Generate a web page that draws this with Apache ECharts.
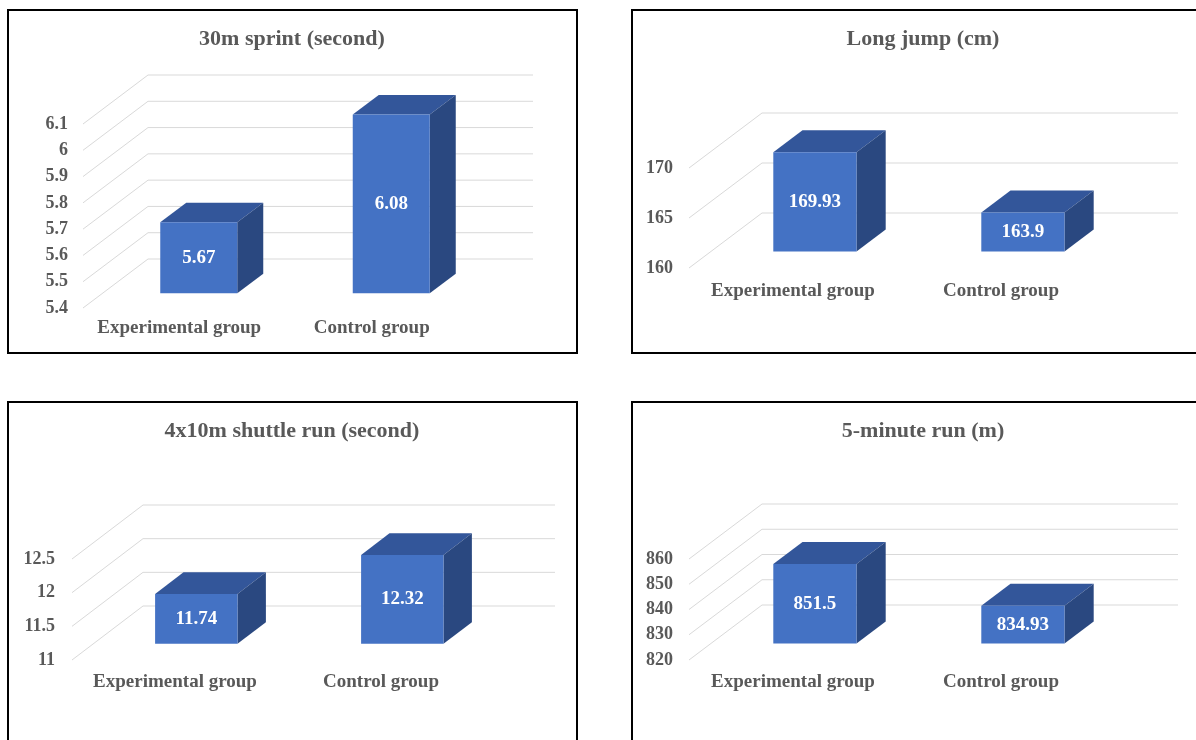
<!DOCTYPE html>
<html>
<head>
<meta charset="utf-8">
<script src="https://cdn.jsdelivr.net/npm/echarts@6/dist/echarts.min.js"></script>
<style>
  html, body { margin: 0; padding: 0; background: #fff; }
  #chart { width: 1196px; height: 740px; }
</style>
</head>
<body>
<div id="chart"></div>
<script>
const categories = ["Experimental group", "Control group"];

const sprintValues = [5.67, 6.08];
const sprintTicks = [5.4, 5.5, 5.6, 5.7, 5.8, 5.9, 6, 6.1];

const jumpValues = [169.93, 163.9];
const jumpTicks = [160, 165, 170];

const shuttleValues = [11.74, 12.32];
const shuttleTicks = [11, 11.5, 12, 12.5];

const runValues = [851.5, 834.93];
const runTicks = [820, 830, 840, 850, 860];

const FONT = '"Liberation Serif", "Times New Roman", serif';
const TEXT_COLOR = "#595959";
const FRONT = "#4472C4";
const TOP = "#33569A";
const SIDE = "#2A4880";
const GRID_LINE = "#D9D9D9";

// layout of the four panels (front plane of each 3d chart + depth vector)
const panels = [
  { title: "30m sprint (second)", values: sprintValues, ticks: sprintTicks,
    box: [8, 10, 569, 343], titlePos: [292, 39],
    grid: { left: 83, top: 124, width: 385, height: 184 },
    depth: [65, -49], xMargin: 11, yMargin: 15 },
  { title: "Long jump (cm)", values: jumpValues, ticks: jumpTicks,
    box: [632, 10, 620, 343], titlePos: [923, 39],
    grid: { left: 689, top: 168, width: 416, height: 100 },
    depth: [73, -55], xMargin: 14, yMargin: 16 },
  { title: "4x10m shuttle run (second)", values: shuttleValues, ticks: shuttleTicks,
    box: [8, 402, 569, 400], titlePos: [292, 431],
    grid: { left: 72, top: 559, width: 412, height: 101 },
    depth: [71, -54], xMargin: 13, yMargin: 17 },
  { title: "5-minute run (m)", values: runValues, ticks: runTicks,
    box: [632, 402, 620, 400], titlePos: [923, 431],
    grid: { left: 689, top: 559, width: 416, height: 101 },
    depth: [73, -55], xMargin: 13, yMargin: 16 },
];

const labelStyle = {
  fontFamily: FONT,
  fontWeight: "bold",
  color: TEXT_COLOR,
};

function gridLineRender(depth) {
  return function (params, api) {
    const cs = params.coordSys;
    const y = api.coord([0, api.value(1)])[1];
    const x0 = cs.x;
    const x1 = cs.x + cs.width;
    return {
      type: "polyline",
      shape: { points: [[x0, y], [x0 + depth[0], y + depth[1]], [x1 + depth[0], y + depth[1]]] },
      style: { stroke: GRID_LINE, lineWidth: 1, fill: null },
    };
  };
}

function barRender(depth, yMin) {
  return function (params, api) {
    const i = api.value(0);
    const v = api.value(1);
    const base = api.coord([i, yMin]);
    const top = api.coord([i, v]);
    const w = api.size([1, 0])[0] * 0.4;
    const fx = base[0] - w / 2 + depth[0] * 0.3;
    const fy0 = top[1] + depth[1] * 0.3;
    const fy1 = base[1] + depth[1] * 0.3;
    const bx = depth[0] * 0.4;
    const by = depth[1] * 0.4;
    return {
      type: "group",
      children: [
        {
          type: "polygon",
          shape: { points: [[fx, fy0], [fx + w, fy0], [fx + w + bx, fy0 + by], [fx + bx, fy0 + by]] },
          style: { fill: TOP },
        },
        {
          type: "polygon",
          shape: { points: [[fx + w, fy0], [fx + w + bx, fy0 + by], [fx + w + bx, fy1 + by], [fx + w, fy1]] },
          style: { fill: SIDE },
        },
        {
          type: "rect",
          shape: { x: fx, y: fy0, width: w, height: fy1 - fy0 },
          style: { fill: FRONT },
        },
        {
          type: "text",
          style: {
            text: String(v),
            x: fx + w / 2,
            y: (fy0 + fy1) / 2,
            align: "center",
            verticalAlign: "middle",
            textAlign: "center",
            textVerticalAlign: "middle",
            fill: "#fff",
            font: "bold 19px " + FONT,
          },
        },
      ],
    };
  };
}

const grids = [];
const xAxes = [];
const yAxes = [];
const series = [];
const graphics = [];

panels.forEach((p, k) => {
  const yMin = p.ticks[0];
  const yMax = p.ticks[p.ticks.length - 1];
  grids.push({ ...p.grid, containLabel: false, outerBoundsMode: "none" });
  xAxes.push({
    gridIndex: k,
    type: "category",
    data: categories,
    axisLine: { show: false },
    axisTick: { show: false },
    axisLabel: { ...labelStyle, fontSize: 19, interval: 0, hideOverlap: false, margin: p.xMargin },
  });
  yAxes.push({
    gridIndex: k,
    type: "value",
    min: yMin,
    max: yMax,
    interval: p.ticks[1] - p.ticks[0],
    axisLine: { show: false },
    axisTick: { show: false },
    splitLine: { show: false },
    axisLabel: {
      ...labelStyle,
      fontSize: 18,
      margin: p.yMargin,
      formatter: (val) => String(Math.round(val * 1000) / 1000),
    },
  });
  series.push({
    type: "custom",
    xAxisIndex: k,
    yAxisIndex: k,
    z: 1,
    silent: true,
    renderItem: gridLineRender(p.depth),
    data: p.ticks.map((t) => [0, t]),
  });
  series.push({
    type: "custom",
    xAxisIndex: k,
    yAxisIndex: k,
    z: 2,
    renderItem: barRender(p.depth, yMin),
    data: p.values.map((v, i) => [i, v]),
  });
  graphics.push({
    type: "rect",
    shape: { x: p.box[0], y: p.box[1], width: p.box[2], height: p.box[3] },
    style: { fill: null, stroke: "#000", lineWidth: 2 },
    z: 0,
  });
  graphics.push({
    type: "text",
    style: {
      text: p.title,
      x: p.titlePos[0],
      y: p.titlePos[1],
      align: "center",
      verticalAlign: "middle",
      textAlign: "center",
      textVerticalAlign: "middle",
      fill: TEXT_COLOR,
      font: "bold 22px " + FONT,
    },
  });
});

const chart = echarts.init(document.getElementById("chart"));
chart.setOption({
  backgroundColor: "#fff",
  animation: false,
  grid: grids,
  xAxis: xAxes,
  yAxis: yAxes,
  series: series,
  graphic: graphics,
});
</script>
</body>
</html>
